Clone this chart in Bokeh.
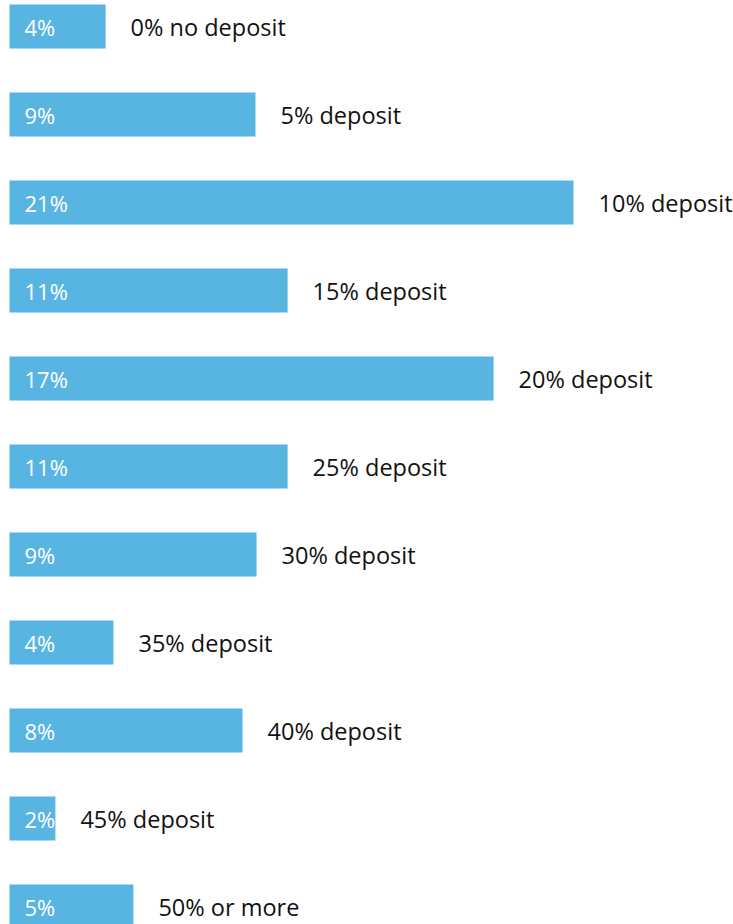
from bokeh.plotting import figure
from bokeh.models import ColumnDataSource, Range1d
from bokeh.core.properties import value
from bokeh.embed import file_html
from bokeh.resources import INLINE

categories = ["0% no deposit", "5% deposit", "10% deposit", "15% deposit", "20% deposit",
              "25% deposit", "30% deposit", "35% deposit", "40% deposit", "45% deposit",
              "50% or more"]
shares = [3.56, 9.11, 20.89, 10.30, 17.93, 10.30, 9.15, 3.85, 8.63, 1.70, 4.59]
share_labels = ["4%", "9%", "21%", "11%", "17%", "11%", "9%", "4%", "8%", "2%", "5%"]

rows = list(range(len(categories)))
src = ColumnDataSource(dict(y=rows, share=shares, lab=share_labels, cat=categories,
                            zero=[0] * len(rows)))

p = figure(width=733, height=924, output_backend="svg", toolbar_location=None,
           x_range=Range1d(-9 / 27, 724 / 27), y_range=Range1d(898 / 88, -26 / 88),
           min_border=0, outline_line_color=None)
p.axis.visible = False
p.grid.visible = False
p.background_fill_color = "white"
p.border_fill_color = "white"

p.hbar(y="y", left=0, right="share", height=0.5, source=src,
       fill_color="#58b5e1", line_color=None)

font = value("Open Sans")
p.text(x="zero", y="y", text="lab", source=src, x_offset=15,
       text_color="white", text_font=font, text_font_size="22px",
       text_baseline="middle", text_align="left")
p.text(x="share", y="y", text="cat", source=src, x_offset=25,
       text_color="#111111", text_font=font, text_font_size="23.5px",
       text_baseline="middle", text_align="left")

open("out.html", "w").write(file_html(p, INLINE))
